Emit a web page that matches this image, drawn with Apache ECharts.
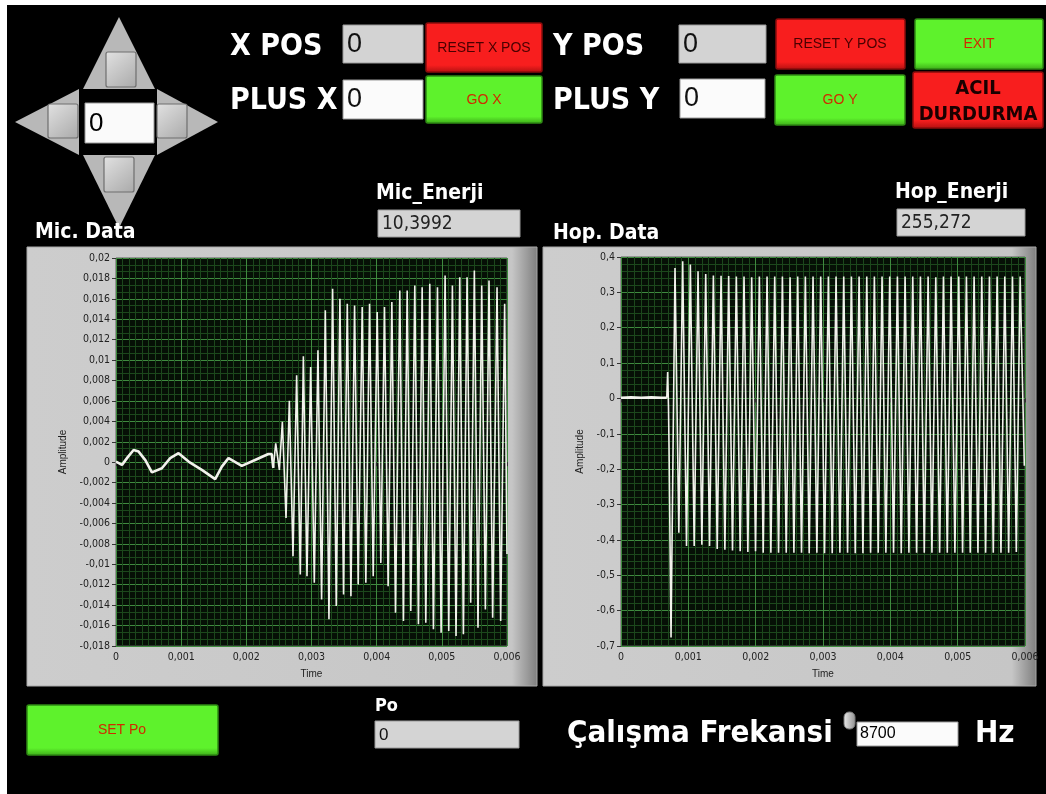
<!DOCTYPE html>
<html>
<head>
<meta charset="utf-8">
<script src="https://cdn.jsdelivr.net/npm/echarts@6/dist/echarts.min.js"></script>
<style>
html,body{margin:0;padding:0;background:#fff;}
#chart{width:1046px;height:794px;}
</style>
</head>
<body>
<div id="chart"></div>
<script>
// ---------- Mic. Data (left graph) ----------
const micTime = [
  0, 0.000092, 0.00018, 0.00027, 0.000347, 0.00045, 0.000551, 0.000704, 0.000832, 0.00096,
  0.001113, 0.001317, 0.001522, 0.001624, 0.001726, 0.00193, 0.002134, 0.002338, 0.00239, 0.002414,
  0.002451, 0.002507, 0.002553, 0.002609, 0.00266, 0.002716, 0.002772, 0.002828,
  0.002875, 0.002931, 0.002987, 0.003043, 0.003099, 0.003155, 0.003212, 0.003268,
  0.003324, 0.00338, 0.003436, 0.003492, 0.003549, 0.003605, 0.003661, 0.003717,
  0.003778, 0.003834, 0.003891, 0.003947, 0.004008, 0.004064, 0.00412, 0.004176,
  0.004233, 0.004289, 0.004355, 0.004411, 0.004468, 0.004524, 0.004585, 0.004641,
  0.004698, 0.004754, 0.004815, 0.004871, 0.004933, 0.004989, 0.00505, 0.005106,
  0.005162, 0.005218, 0.005275, 0.005331, 0.005387, 0.005443, 0.005499, 0.005555,
  0.005612, 0.005668, 0.005724, 0.00578, 0.005847, 0.005903, 0.005964, 0.006
];
const micAmp = [
  0.00006, -0.00026, 0.0005, 0.0012, 0.00104, 0.0002, -0.001, -0.00059, 0.0004, 0.00088,
  0.00006, -0.00075, -0.00166, -0.00043, 0.0004, -0.00036, 0.00022, 0.0008, 0.0008, -0.00056,
  0.00185, -0.00075, 0.00396, -0.00547, 0.00601, -0.00921, 0.00852, -0.0110,
  0.01037, -0.01117, 0.00933, -0.01181, 0.01096, -0.01344, 0.01487, -0.01539,
  0.01698, -0.01409, 0.01600, -0.01295, 0.01552, -0.01312, 0.01535, -0.01198,
  0.01519, -0.01181, 0.01552, -0.01117, 0.01470, -0.00986, 0.01519, -0.01214,
  0.01568, -0.01474, 0.01682, -0.01556, 0.01682, -0.01458, 0.01730, -0.01588,
  0.01714, -0.01571, 0.01747, -0.01637, 0.01714, -0.01669, 0.01828, -0.01653,
  0.01730, -0.01702, 0.01811, -0.01686, 0.01811, -0.01376, 0.01877, -0.01620,
  0.01730, -0.01442, 0.01779, -0.01523, 0.01714, -0.01556, 0.01552, -0.0090
];
const micQuietCount = 19; // samples before the oscillation starts

// ---------- Hop. Data (right graph) ----------
const hopTime = [
  0, 0.00015, 0.0003, 0.00045, 0.0006, 0.00068, 0.000693, 0.000705, 0.000713, 0.000743,
  0.000802, 0.000859, 0.000916, 0.000973, 0.001030, 0.001087, 0.001144, 0.001201,
  0.001258, 0.001315, 0.001372, 0.001429, 0.001486, 0.001543, 0.001599, 0.001656,
  0.001713, 0.001770, 0.001827, 0.001884, 0.001941, 0.001998, 0.002055, 0.002112,
  0.002169, 0.002226, 0.002283, 0.002340, 0.002397, 0.002454, 0.002511, 0.002568,
  0.002624, 0.002681, 0.002738, 0.002795, 0.002852, 0.002909, 0.002966, 0.003023,
  0.003080, 0.003137, 0.003194, 0.003251, 0.003308, 0.003365, 0.003422, 0.003479,
  0.003536, 0.003593, 0.003650, 0.003707, 0.003763, 0.003820, 0.003877, 0.003934,
  0.003991, 0.004048, 0.004105, 0.004162, 0.004219, 0.004276, 0.004333, 0.004390,
  0.004447, 0.004504, 0.004561, 0.004618, 0.004675, 0.004732, 0.004789, 0.004846,
  0.004902, 0.004959, 0.005016, 0.005073, 0.005130, 0.005187, 0.005244, 0.005301,
  0.005358, 0.005415, 0.005472, 0.005529, 0.005586, 0.005643, 0.005700, 0.005757,
  0.005814, 0.005871, 0.005928, 0.005990
];
const hopAmp = [
  0.002, 0.003, 0.002, 0.003, 0.002, 0.002, 0.075, -0.02, -0.13, -0.676,
  0.369, -0.380, 0.388, -0.417, 0.379, -0.417, 0.360, -0.414,
  0.352, -0.417, 0.348, -0.426, 0.347, -0.428, 0.346, -0.430,
  0.345, -0.432, 0.345, -0.434, 0.343, -0.432, 0.345, -0.436,
  0.345, -0.436, 0.345, -0.436, 0.345, -0.436, 0.343, -0.436,
  0.345, -0.436, 0.345, -0.438, 0.345, -0.436, 0.345, -0.438,
  0.345, -0.438, 0.345, -0.436, 0.345, -0.436, 0.345, -0.438,
  0.345, -0.438, 0.345, -0.436, 0.345, -0.436, 0.345, -0.436,
  0.345, -0.436, 0.345, -0.438, 0.345, -0.436, 0.345, -0.436,
  0.345, -0.436, 0.345, -0.436, 0.343, -0.436, 0.345, -0.436,
  0.345, -0.436, 0.345, -0.436, 0.345, -0.436, 0.345, -0.436,
  0.345, -0.436, 0.345, -0.436, 0.345, -0.436, 0.345, -0.436,
  0.345, -0.434, 0.345, -0.190
];
const hopQuietCount = 6; // samples of the flat start

// ---------- axis settings ----------
const micYRange = [-0.018, 0.02, 0.002];
const hopYRange = [-0.7, 0.4, 0.1];
const timeRange = [0, 0.006, 0.001];

// ---------- front-panel texts ----------
const panelValues = {
  xPos: '0', plusX: '0', yPos: '0', plusY: '0', jog: '0',
  micEnerji: '10,3992', hopEnerji: '255,272', po: '0', freq: '8700'
};

const BOLD = "'DejaVu Sans Condensed', 'Liberation Sans', Arial, sans-serif";
const NARROW = "'Liberation Sans Narrow', 'Liberation Sans', Arial, sans-serif";
const TICK = "'DejaVu Sans Condensed', 'DejaVu Sans', sans-serif";
const RED = '#f81e1e', GREEN = '#5ef22c';

function fmt(v) {
  return String(Number(v.toFixed(5))).replace('.', ',');
}
function pairs(t, a, from, to) {
  const out = [];
  for (let i = from; i < to; i++) out.push([t[i], a[i]]);
  return out;
}

function txt(x, y, text, size, color, opts) {
  opts = opts || {};
  return {
    type: 'text', x: x, y: y, z: 20,
    style: {
      text: text, fill: color,
      font: (opts.weight || 'normal') + ' ' + size + 'px ' + (opts.family || BOLD),
      textAlign: opts.align || 'left', textVerticalAlign: 'middle',
      align: opts.align || 'left', verticalAlign: 'middle'
    }
  };
}
function button(x, y, w, h, color) {
  const dark = color === RED ? '#b01010' : '#3caa18';
  return [
    { type: 'rect', z: 10, shape: { x: x, y: y, width: w, height: h, r: 2 },
      style: { fill: {
        type: 'linear', x: 0, y: 0, x2: 0, y2: 1,
        colorStops: [{ offset: 0, color: color }, { offset: 0.85, color: color }, { offset: 1, color: dark }]
      }, stroke: color === RED ? '#8a0c0c' : '#2f8a14', lineWidth: 1.5 } }
  ];
}
function box(x, y, w, h, fill) {
  return { type: 'rect', z: 10, shape: { x: x, y: y, width: w, height: h },
    style: { fill: fill, stroke: '#9a9a9a', lineWidth: 1 } };
}
function jogBtn(x, y, w, h) {
  return { type: 'rect', z: 12, shape: { x: x, y: y, width: w, height: h, r: 2 },
    style: { fill: { type: 'linear', x: 0, y: 0, x2: 1, y2: 1,
      colorStops: [{ offset: 0, color: '#e2e2e2' }, { offset: 1, color: '#a9a9a9' }] },
      stroke: '#6e6e6e', lineWidth: 1.2 } };
}
function frame(x, y, w, h) {
  return { type: 'rect', z: -5, shape: { x: x, y: y, width: w, height: h },
    style: { fill: { type: 'linear', x: 0, y: 0, x2: 1, y2: 0,
      colorStops: [{ offset: 0, color: '#cdcdcd' }, { offset: 0.95, color: '#c6c6c6' }, { offset: 1, color: '#7e7e7e' }] },
      stroke: '#a8a8a8', lineWidth: 1 } };
}

const graphics = [
  { type: 'rect', z: -20, shape: { x: 7, y: 5, width: 1039, height: 789 }, style: { fill: '#000' } },
  // jog pad
  { type: 'polygon', z: 5, shape: { points: [[119, 17], [83, 89], [155, 89]] }, style: { fill: '#b8b8b8' } },
  { type: 'polygon', z: 5, shape: { points: [[15, 122], [79, 89], [79, 155]] }, style: { fill: '#b8b8b8' } },
  { type: 'polygon', z: 5, shape: { points: [[218, 122], [157, 89], [157, 155]] }, style: { fill: '#b8b8b8' } },
  { type: 'polygon', z: 5, shape: { points: [[119, 228], [83, 155], [155, 155]] }, style: { fill: '#b8b8b8' } },
  jogBtn(106, 52, 30, 35), jogBtn(48, 104, 30, 34), jogBtn(157, 104, 30, 34), jogBtn(104, 157, 30, 35),
  box(85, 103, 69, 40, '#fafafa'),
  txt(89, 124, panelValues.jog, 26, '#000', { family: NARROW }),
  // X row
  txt(230, 47, 'X POS', 30, '#fff', { weight: 'bold' }),
  txt(230, 101, 'PLUS X', 30, '#fff', { weight: 'bold' }),
  box(343, 25, 80, 38, '#d3d3d3'), txt(347, 45, panelValues.xPos, 27, '#111', { family: NARROW }),
  box(343, 80, 80, 39, '#fbfbfb'), txt(347, 100, panelValues.plusX, 27, '#111', { family: NARROW }),
  ...button(426, 23, 116, 49, RED), txt(484, 48, 'RESET X POS', 14, '#4a0000', { family: NARROW, align: 'center' }),
  ...button(426, 76, 116, 47, GREEN), txt(484, 100, 'GO X', 14, '#d02a00', { family: NARROW, align: 'center' }),
  // Y row
  txt(553, 47, 'Y POS', 30, '#fff', { weight: 'bold' }),
  txt(553, 101, 'PLUS Y', 30, '#fff', { weight: 'bold' }),
  box(679, 25, 87, 38, '#d3d3d3'), txt(683, 45, panelValues.yPos, 27, '#111', { family: NARROW }),
  box(680, 79, 85, 39, '#fbfbfb'), txt(684, 99, panelValues.plusY, 27, '#111', { family: NARROW }),
  ...button(776, 19, 129, 50, RED), txt(840, 44, 'RESET Y POS', 14, '#4a0000', { family: NARROW, align: 'center' }),
  ...button(775, 75, 130, 50, GREEN), txt(840, 100, 'GO Y', 14, '#d02a00', { family: NARROW, align: 'center' }),
  ...button(915, 19, 128, 50, GREEN), txt(979, 44, 'EXIT', 14, '#d02a00', { family: NARROW, align: 'center' }),
  ...button(913, 72, 130, 56, RED),
  txt(978, 89, 'ACIL', 20, '#1a0000', { weight: 'bold', align: 'center' }),
  txt(978, 115, 'DURDURMA', 20, '#1a0000', { weight: 'bold', align: 'center' }),
  // energy indicators
  txt(376, 194, 'Mic_Enerji', 21, '#fff', { weight: 'bold' }),
  box(378, 210, 142, 27, '#d4d4d4'), txt(382, 224, panelValues.micEnerji, 19, '#222', { family: BOLD }),
  txt(895, 193, 'Hop_Enerji', 21, '#fff', { weight: 'bold' }),
  box(897, 209, 128, 27, '#d4d4d4'), txt(901, 223, panelValues.hopEnerji, 19, '#222', { family: BOLD }),
  txt(35, 233, 'Mic. Data', 21, '#fff', { weight: 'bold' }),
  txt(553, 234, 'Hop. Data', 21, '#fff', { weight: 'bold' }),
  // graph frames
  frame(27, 247, 510, 439),
  frame(543, 247, 493, 439),
  // bottom row
  ...button(27, 705, 191, 50, GREEN), txt(122, 730, 'SET Po', 14, '#d02a00', { family: NARROW, align: 'center' }),
  txt(375, 706, 'Po', 18, '#fff', { weight: 'bold' }),
  box(375, 721, 144, 27, '#d4d4d4'), txt(379, 735, panelValues.po, 17, '#111', { family: NARROW }),
  txt(567, 734, 'Çalışma Frekansi', 31, '#fff', { weight: 'bold' }),
  { type: 'rect', z: 10, shape: { x: 844, y: 712, width: 11, height: 17, r: 5 },
    style: { fill: { type: 'linear', x: 0, y: 0, x2: 1, y2: 0,
      colorStops: [{ offset: 0, color: '#ececec' }, { offset: 1, color: '#8f8f8f' }] }, stroke: '#777', lineWidth: 1 } },
  box(857, 722, 101, 24, '#fbfbfb'), txt(860, 734, panelValues.freq, 16, '#000', { family: NARROW }),
  txt(975, 734, 'Hz', 31, '#fff', { weight: 'bold' })
];

function xAxisCfg(gi) {
  return {
    type: 'value', gridIndex: gi, min: timeRange[0], max: timeRange[1], interval: timeRange[2],
    name: 'Time', nameLocation: 'middle', nameGap: 23,
    nameTextStyle: { color: '#222', fontSize: 10, fontFamily: NARROW },
    axisLine: { show: false },
    axisTick: { show: true, length: 4, lineStyle: { color: '#333' } },
    axisLabel: { color: '#222', fontSize: 10.5, fontFamily: TICK, margin: 6, formatter: fmt },
    splitLine: { show: true, lineStyle: { color: '#3f8a3f', width: 1 } },
    minorTick: { show: false, splitNumber: 10 },
    minorSplitLine: { show: true, lineStyle: { color: '#1c481c', width: 1 } }
  };
}
function yAxisCfg(gi, r, gap, minorN) {
  return {
    type: 'value', gridIndex: gi, min: r[0], max: r[1], interval: r[2],
    name: 'Amplitude', nameLocation: 'middle', nameGap: gap, nameRotate: 90,
    nameTextStyle: { color: '#222', fontSize: 10, fontFamily: NARROW },
    axisLine: { show: false },
    axisTick: { show: true, length: 4, lineStyle: { color: '#333' } },
    axisLabel: { color: '#222', fontSize: 10.5, fontFamily: TICK, margin: 6, formatter: fmt },
    splitLine: { show: true, lineStyle: { color: '#3f8a3f', width: 1 } },
    minorTick: { show: false, splitNumber: minorN },
    minorSplitLine: { show: true, lineStyle: { color: '#1c481c', width: 1 } }
  };
}

const lineColor = '#f2f2ec';
const chart = echarts.init(document.getElementById('chart'), null, { renderer: 'canvas' });
chart.setOption({
  animation: false,
  backgroundColor: '#fff',
  graphic: { elements: graphics },
  grid: [
    { left: 116, top: 258, width: 391, height: 388, show: true, backgroundColor: '#061006', borderColor: '#5a5a5a', borderWidth: 1, z: 0 },
    { left: 621, top: 257, width: 404, height: 389, show: true, backgroundColor: '#061006', borderColor: '#5a5a5a', borderWidth: 1, z: 0 }
  ],
  xAxis: [xAxisCfg(0), xAxisCfg(1)],
  yAxis: [yAxisCfg(0, micYRange, 48, 3), yAxisCfg(1, hopYRange, 36, 5)],
  series: [
    { type: 'line', xAxisIndex: 0, yAxisIndex: 0, data: pairs(micTime, micAmp, 0, micQuietCount + 1), showSymbol: false,
      lineStyle: { color: lineColor, width: 2.6 }, z: 5 },
    { type: 'line', xAxisIndex: 0, yAxisIndex: 0, data: pairs(micTime, micAmp, micQuietCount, micTime.length), showSymbol: false,
      lineStyle: { color: lineColor, width: 1.6 }, z: 5 },
    { type: 'line', xAxisIndex: 1, yAxisIndex: 1, data: pairs(hopTime, hopAmp, 0, hopQuietCount), showSymbol: false,
      lineStyle: { color: lineColor, width: 2.6 }, z: 5 },
    { type: 'line', xAxisIndex: 1, yAxisIndex: 1, data: pairs(hopTime, hopAmp, hopQuietCount - 1, hopTime.length), showSymbol: false,
      lineStyle: { color: lineColor, width: 1.6 }, z: 5 }
  ]
});
</script>
</body>
</html>
